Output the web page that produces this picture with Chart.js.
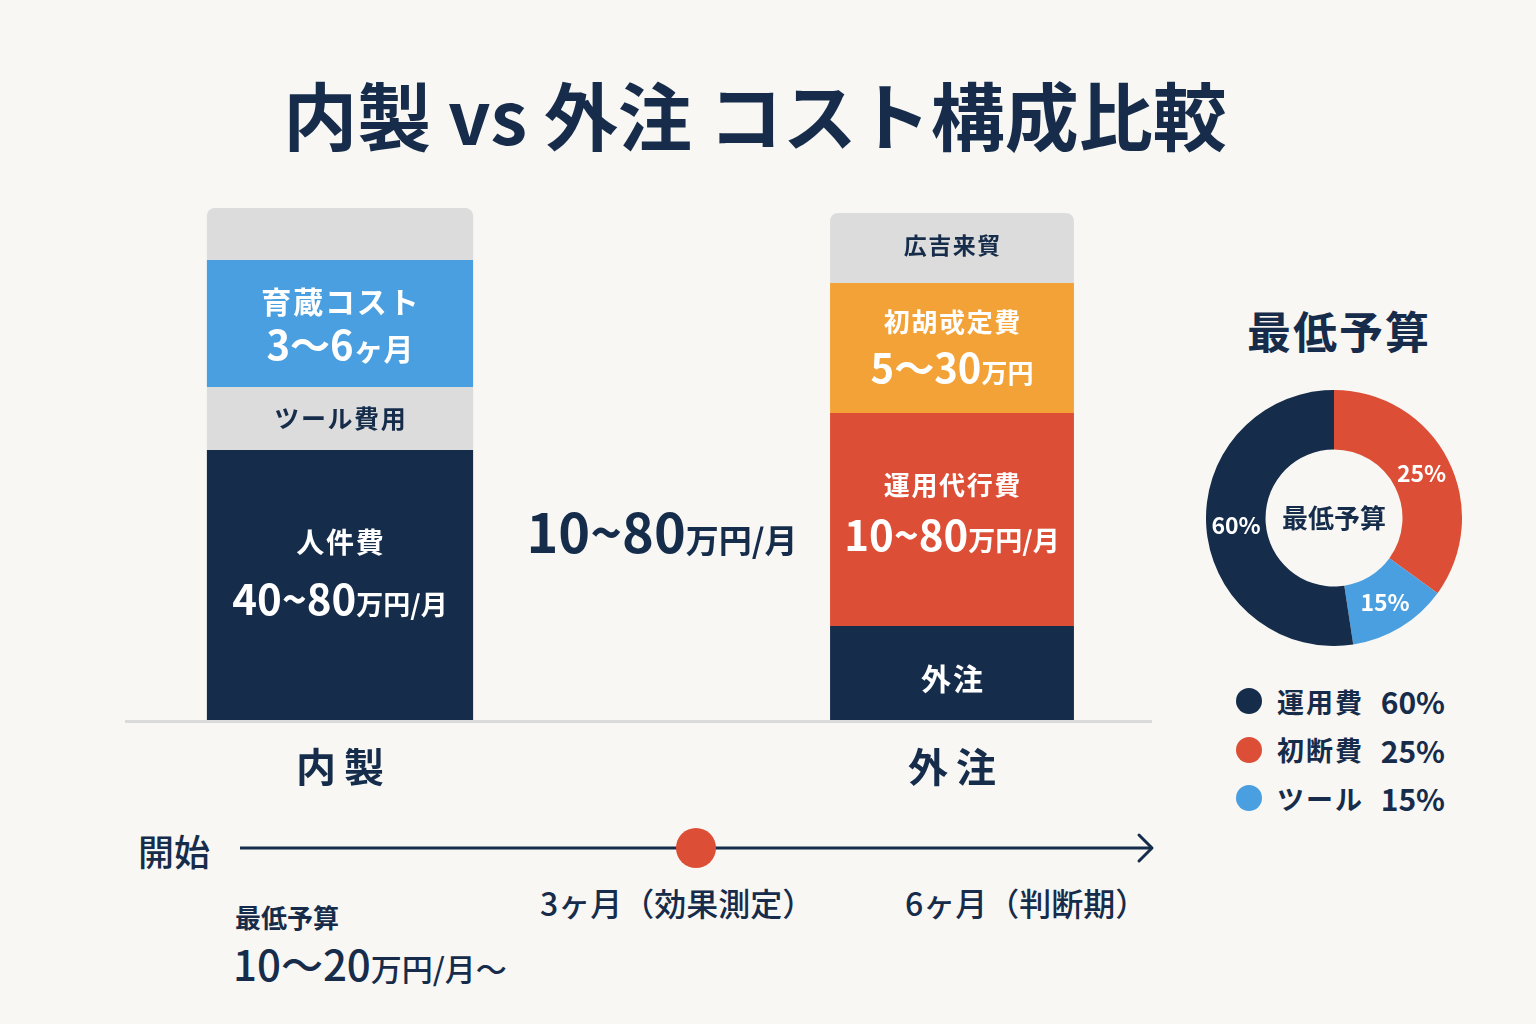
<!DOCTYPE html>
<html lang="ja">
<head>
<meta charset="utf-8">
<title>内製 vs 外注 コスト構成比較</title>
<script src="https://cdn.jsdelivr.net/npm/chart.js@4.4.1/dist/chart.umd.min.js"></script>
<style>
  html, body { margin: 0; padding: 0; }
  body {
    width: 1536px; height: 1024px; position: relative; overflow: hidden;
    background: #f8f7f4; color: #162c4a;
    font-family: "Noto Sans CJK JP", "Noto Sans", sans-serif;
  }
  .abs { position: absolute; line-height: 1; white-space: nowrap; }
  #title { left: 0; width: 1510px; top: 76px; text-align: center; font-size: 74px; font-weight: 700; }
  #barCanvas { position: absolute; left: 120px; top: 190px; }
  #pieCanvas { position: absolute; left: 1206px; top: 390px; }
  #lineCanvas { position: absolute; left: 236px; top: 818px; }
  #pieTitle { left: 1247px; top: 308px; font-size: 44px; font-weight: 700; letter-spacing: 2px; }
  #legend { position: absolute; left: 1236px; top: 677px; }
  .row { display: flex; align-items: center; height: 48.5px; }
  .dot { width: 26px; height: 26px; border-radius: 50%; margin-right: 15px; }
  .lname { width: 100px; font-size: 27px; font-weight: 700; letter-spacing: 2px; }
  .lpct { width: 68px; text-align: right; font-size: 30px; font-weight: 700; }
  .med { font-weight: 500; }
</style>
</head>
<body>
<div id="title" class="abs">内製 vs 外注 コスト構成比較</div>

<canvas id="barCanvas" width="1040" height="600"></canvas>

<div id="pieTitle" class="abs">最低予算</div>
<canvas id="pieCanvas" width="256" height="256"></canvas>
<div id="legend"></div>

<div class="abs med" style="left:138px; top:832px; font-size:36px;">開始</div>
<canvas id="lineCanvas" width="926" height="60"></canvas>
<div class="abs med" style="left:540px; top:886px; font-size:32px;">3ヶ月（効果測定）</div>
<div class="abs med" style="left:905px; top:886px; font-size:32px;">6ヶ月（判断期）</div>
<div class="abs" style="left:235px; top:904px; font-size:26px; font-weight:700;">最低予算</div>
<div class="abs med" style="left:233px; top:942px;"><span style="font-size:42px;">10〜20</span><span style="font-size:31px;">万円/月〜</span></div>

<script>
// ---- データ ----
const categories = ['内製', '', '外注'];
const middleLabel = '10~80万円/月';

// 内製 (下から上へ)
const inhouseValues = [270, 63, 127, 52];
const inhouseNames = ['人件費', 'ツール費用', '育蔵コスト', ''];
const inhouseAmounts = ['40~80万円/月', '', '3〜6ヶ月', ''];

// 外注 (下から上へ)
const outsourceValues = [94, 213, 130, 70];
const outsourceNames = ['外注', '運用代行費', '初胡戓定費', '広吉来貿'];
const outsourceAmounts = ['', '10~80万円/月', '5〜30万円', ''];

// 最低予算ドーナツ (上から時計回り)
const budgetNames = ['初断費', 'ツール', '運用費'];
const budgetShares = [35, 12.6, 52.4];
const budgetLabels = ['25%', '15%', '60%'];

// タイムライン (月)
const timelineRange = [0, 6];
const milestoneMonth = 3;

// ---- スタイル ----
const NAVY = '#152c4a';
const BLUE = '#4a9fe0';
const GRAY = '#dcdcdc';
const ORANGE = '#f2a236';
const RED = '#dc4e35';
const FONT = '"Noto Sans CJK JP", "Noto Sans", sans-serif';

const inhouseColors = [NAVY, GRAY, BLUE, GRAY];
const inhouseText = ['#fff', NAVY, '#fff', NAVY];
const inhouseSizes = [[28, 42, 27], [25, 0, 0], [30, 40, 30], [0, 0, 0]]; // 名前, 数字, 単位
const inhouseGaps = [[-43, 15], [0, 0], [-22, 22], [0, 0]];

const outsourceColors = [NAVY, RED, ORANGE, GRAY];
const outsourceText = ['#fff', '#fff', '#fff', NAVY];
const outsourceSizes = [[30, 0, 0], [26, 42, 27], [26, 40, 26], [23, 0, 0]];
const outsourceGaps = [[6, 0], [-34, 16], [-26, 21], [-3, 0]];

const budgetColors = [RED, BLUE, NAVY];

// 数字と単位でサイズを変えて1行描く
function drawRuns(ctx, text, cx, cy, big, small, color) {
  const runs = text.match(/[0-9~〜]+|[^0-9~〜]+/g) || [];
  const parts = runs.map(r => {
    const size = /^[0-9~〜]/.test(r) ? big : small;
    ctx.font = `700 ${size}px ${FONT}`;
    return { r, size, w: ctx.measureText(r).width };
  });
  const total = parts.reduce((s, p) => s + p.w, 0);
  let x = cx - total / 2;
  ctx.fillStyle = color;
  ctx.textAlign = 'left';
  ctx.textBaseline = 'alphabetic';
  parts.forEach(p => {
    ctx.font = `700 ${p.size}px ${FONT}`;
    ctx.fillText(p.r, x, cy + big * 0.36);
    x += p.w;
  });
}

// ---- 積み上げ棒 ----
const datasets = [];
inhouseValues.forEach((v, i) => {
  datasets.push({
    data: [v, null, null],
    backgroundColor: inhouseColors[i],
    barPercentage: 0.87,
    categoryPercentage: 1,
    borderRadius: i === inhouseValues.length - 1 ? { topLeft: 8, topRight: 8, bottomLeft: 0, bottomRight: 0 } : 0,
    borderSkipped: false,
    segName: inhouseNames[i], segAmount: inhouseAmounts[i],
    textColor: inhouseText[i], sizes: inhouseSizes[i], gaps: inhouseGaps[i]
  });
});
outsourceValues.forEach((v, i) => {
  datasets.push({
    data: [null, null, v],
    backgroundColor: outsourceColors[i],
    barPercentage: 0.797,
    categoryPercentage: 1,
    borderRadius: i === outsourceValues.length - 1 ? { topLeft: 8, topRight: 8, bottomLeft: 0, bottomRight: 0 } : 0,
    borderSkipped: false,
    segName: outsourceNames[i], segAmount: outsourceAmounts[i],
    textColor: outsourceText[i], sizes: outsourceSizes[i], gaps: outsourceGaps[i]
  });
});

const barDecor = {
  id: 'barDecor',
  beforeDatasetsDraw(chart) {
    const ctx = chart.ctx, a = chart.chartArea;
    ctx.save();
    ctx.strokeStyle = '#dadada';
    ctx.lineWidth = 3;
    ctx.beginPath();
    ctx.moveTo(a.left - 62, a.bottom + 1.5);
    ctx.lineTo(a.right + 47, a.bottom + 1.5);
    ctx.stroke();
    ctx.restore();
  },
  afterDatasetsDraw(chart) {
    const ctx = chart.ctx, a = chart.chartArea, xs = chart.scales.x;
    ctx.save();
    chart.data.datasets.forEach((ds, i) => {
      chart.getDatasetMeta(i).data.forEach((bar, j) => {
        if (ds.data[j] == null) return;
        const cx = bar.x, cy = (bar.y + bar.base) / 2;
        if (ds.segName) {
          ctx.font = `700 ${ds.sizes[0]}px ${FONT}`;
          ctx.fillStyle = ds.textColor;
          ctx.textAlign = 'center';
          ctx.textBaseline = 'middle';
          ctx.fillText(ds.segName.split('').join('\u200a'), cx, cy + ds.gaps[0]);
        }
        if (ds.segAmount) {
          drawRuns(ctx, ds.segAmount, cx, cy + ds.gaps[1], ds.sizes[1], ds.sizes[2], ds.textColor);
        }
      });
    });
    // カテゴリ名
    categories.forEach((c, i) => {
      if (!c) return;
      ctx.font = `700 40px ${FONT}`;
      ctx.fillStyle = NAVY;
      ctx.textAlign = 'center';
      ctx.textBaseline = 'middle';
      ctx.fillText(c.split('').join('\u2009'), xs.getPixelForValue(i), a.bottom + 47);
    });
    // 中央の金額
    drawRuns(ctx, middleLabel, xs.getPixelForValue(1) + 16, a.bottom - 186, 54, 33, NAVY);
    ctx.restore();
  }
};

new Chart(document.getElementById('barCanvas'), {
  type: 'bar',
  data: { labels: categories, datasets: datasets },
  options: {
    responsive: false,
    animation: false,
    layout: { padding: { left: 67, right: 55, top: 0, bottom: 70 } },
    scales: {
      x: { stacked: true, display: false },
      y: { stacked: true, display: false, min: 0, max: 530 }
    },
    plugins: { legend: { display: false }, tooltip: { enabled: false } }
  },
  plugins: [barDecor]
});

// ---- ドーナツ ----
const pieText = {
  id: 'pieText',
  afterDatasetsDraw(chart) {
    const ctx = chart.ctx;
    ctx.save();
    ctx.textAlign = 'center';
    ctx.textBaseline = 'middle';
    chart.getDatasetMeta(0).data.forEach((arc, i) => {
      const p = arc.tooltipPosition();
      ctx.font = `700 23px ${FONT}`;
      ctx.fillStyle = '#fff';
      ctx.fillText(budgetLabels[i], p.x, p.y);
    });
    const arc0 = chart.getDatasetMeta(0).data[0];
    ctx.font = `700 26px ${FONT}`;
    ctx.fillStyle = NAVY;
    ctx.fillText('最低予算', arc0.x, arc0.y);
    ctx.restore();
  }
};

new Chart(document.getElementById('pieCanvas'), {
  type: 'doughnut',
  data: {
    labels: budgetNames,
    datasets: [{ data: budgetShares, backgroundColor: budgetColors, borderWidth: 0, hoverOffset: 0 }]
  },
  options: {
    responsive: false,
    animation: false,
    cutout: '53.5%',
    plugins: { legend: { display: false }, tooltip: { enabled: false } }
  },
  plugins: [pieText]
});

// 凡例 (運用費, 初断費, ツール の順)
const legendOrder = [2, 0, 1];
document.getElementById('legend').innerHTML = legendOrder.map(i =>
  `<div class="row"><div class="dot" style="background:${budgetColors[i]}"></div>` +
  `<div class="lname">${budgetNames[i]}</div><div class="lpct">${budgetLabels[i]}</div></div>`
).join('');

// ---- タイムライン ----
const arrowHead = {
  id: 'arrowHead',
  afterDatasetsDraw(chart) {
    const ctx = chart.ctx;
    const x = chart.scales.x.getPixelForValue(timelineRange[1]);
    const y = chart.scales.y.getPixelForValue(0);
    ctx.save();
    ctx.strokeStyle = NAVY;
    ctx.lineWidth = 3;
    ctx.lineCap = 'round';
    ctx.lineJoin = 'round';
    ctx.beginPath();
    ctx.moveTo(x - 13, y - 13);
    ctx.lineTo(x, y);
    ctx.lineTo(x - 13, y + 13);
    ctx.stroke();
    ctx.restore();
  }
};

new Chart(document.getElementById('lineCanvas'), {
  type: 'scatter',
  data: {
    datasets: [
      {
        data: [{ x: milestoneMonth, y: 0 }],
        pointRadius: 20, pointBackgroundColor: RED, pointBorderWidth: 0, clip: false
      },
      {
        data: timelineRange.map(m => ({ x: m, y: 0 })),
        showLine: true, borderColor: NAVY, borderWidth: 3, pointRadius: 0
      }
    ]
  },
  options: {
    responsive: false,
    animation: false,
    layout: { autoPadding: false, padding: { left: 4, right: 10, top: 0, bottom: 0 } },
    scales: {
      x: { display: false, min: timelineRange[0], max: timelineRange[1] },
      y: { display: false, min: -1, max: 1 }
    },
    plugins: { legend: { display: false }, tooltip: { enabled: false } }
  },
  plugins: [arrowHead]
});
</script>
</body>
</html>
